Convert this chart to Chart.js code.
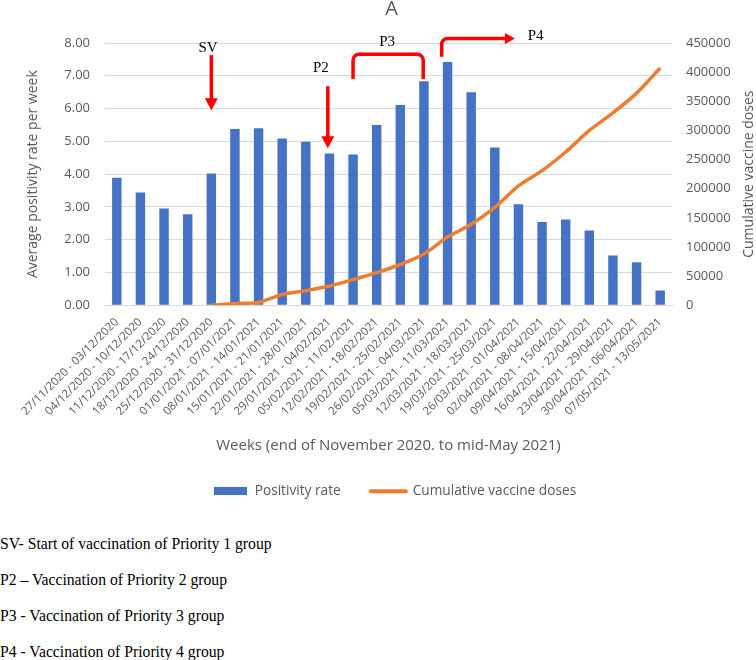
<!DOCTYPE html>
<html>
<head>
<meta charset="utf-8">
<script src="https://cdn.jsdelivr.net/npm/chart.js@4.4.1/dist/chart.umd.min.js"></script>
<style>
  body { margin: 0; background: #fff; width: 756px; height: 660px; position: relative; overflow: hidden; }
  #wrap { position: absolute; left: 0; top: 0; width: 756px; height: 508px; }
  .note { position: absolute; left: 0; font-family: "Liberation Serif", "Times New Roman", serif;
          font-size: 16px; line-height: 20px; color: #000; white-space: nowrap;
          transform: scaleX(0.98); transform-origin: left center; }
</style>
</head>
<body>
<div id="wrap"><canvas id="chart" width="756" height="508"></canvas></div>
<div class="note" style="top:534px">SV- Start of vaccination of Priority 1 group</div>
<div class="note" style="top:570px">P2 – Vaccination of Priority 2 group</div>
<div class="note" style="top:606px">P3 - Vaccination of Priority 3 group</div>
<div class="note" style="top:642px">P4 - Vaccination of Priority 4 group</div>
<script>
// --- data ---
const weeks = [
  '27/11/2020 - 03/12/2020', '04/12/2020 - 10/12/2020', '11/12/2020 - 17/12/2020',
  '18/12/2020 - 24/12/2020', '25/12/2020 - 31/12/2020', '01/01/2021 - 07/01/2021',
  '08/01/2021 - 14/01/2021', '15/01/2021 - 21/01/2021', '22/01/2021 - 28/01/2021',
  '29/01/2021 - 04/02/2021', '05/02/2021 - 11/02/2021', '12/02/2021 - 18/02/2021',
  '19/02/2021 - 25/02/2021', '26/02/2021 - 04/03/2021', '05/03/2021 - 11/03/2021',
  '12/03/2021 - 18/03/2021', '19/03/2021 - 25/03/2021', '26/03/2021 - 01/04/2021',
  '02/04/2021 - 08/04/2021', '09/04/2021 - 15/04/2021', '16/04/2021 - 22/04/2021',
  '23/04/2021 - 29/04/2021', '30/04/2021 - 06/04/2021', '07/05/2021 - 13/05/2021'
];
const positivityRate = [3.89, 3.44, 2.95, 2.78, 4.02, 5.38, 5.40, 5.09, 4.99, 4.63, 4.60, 5.50,
                        6.11, 6.83, 7.42, 6.50, 4.81, 3.08, 2.54, 2.62, 2.28, 1.52, 1.31, 0.45];
const vaccineDoses = [null, null, null, null, 0, 3000, 5000, 18500, 25000, 33000, 44000, 56000,
                      70000, 88000, 117000, 139000, 168000, 205000, 231000, 263000, 300000, 330000, 364000, 407000];
const leftTicks = { min: 0, max: 8, step: 1 };
const rightTicks = { min: 0, max: 450000, step: 50000 };

// annotation marks, in category index / left-axis units
const downArrows = [
  { label: 'SV', x: 4, from: 7.63, to: 5.95, lx: 3.86, ly: 7.85 },
  { label: 'P2', x: 8.93, from: 6.68, to: 4.79, lx: 8.64, ly: 7.24 }
];
const bracketP3 = { label: 'P3', x0: 10, x1: 12.97, low: 6.9, high: 7.66, lx: 11.44, ly: 8.03 };
const turnP4 = { label: 'P4', x0: 13.75, x1: 16.85, low: 7.58, high: 8.14, lx: 17.73, ly: 8.21 };

const BLUE = '#4472C4', ORANGE = '#ED7D31', TEXT = '#595959', GRID = '#D9D9D9', RED = '#FF0000';
const SANS = '"Open Sans", sans-serif';

// legend swatch for the bars
const swatch = document.createElement('canvas');
swatch.width = 33; swatch.height = 8;
const sctx = swatch.getContext('2d');
sctx.fillStyle = BLUE; sctx.fillRect(0, 0, 33, 8);

const markers = {
  id: 'markers',
  afterLayout(chart) {
    // centre the legend under the plot rather than the canvas
    const shift = (chart.chartArea.left + chart.chartArea.right) / 2 - chart.width / 2 + 6;
    chart.legend.left += shift;
    chart.legend.right += shift;
  },
  afterDatasetsDraw(chart) {
    const { ctx, chartArea, scales: { x, y } } = chart;
    const px = i => x.getPixelForValue(0) + i * (x.getPixelForValue(1) - x.getPixelForValue(0));
    ctx.save();

    // title "A"
    ctx.fillStyle = TEXT;
    ctx.font = '20px ' + SANS;
    ctx.textAlign = 'center';
    ctx.textBaseline = 'middle';
    ctx.fillText('A', (chartArea.left + chartArea.right) / 2 + 3, 9);

    // right axis title, reading upward
    ctx.save();
    ctx.translate(749, (chartArea.top + chartArea.bottom) / 2);
    ctx.rotate(-Math.PI / 2);
    ctx.font = '14px ' + SANS;
    ctx.fillText('Cumulative vaccine doses', 0, 0);
    ctx.restore();

    ctx.strokeStyle = RED;
    ctx.fillStyle = RED;
    ctx.lineWidth = 3.5;
    ctx.lineCap = 'butt';
    ctx.lineJoin = 'round';
    const head = 12, half = 6.5;

    downArrows.forEach(a => {
      const ax = px(a.x), y0 = y.getPixelForValue(a.from), y1 = y.getPixelForValue(a.to);
      ctx.beginPath(); ctx.moveTo(ax, y0); ctx.lineTo(ax, y1 - head + 1); ctx.stroke();
      ctx.beginPath(); ctx.moveTo(ax - half, y1 - head); ctx.lineTo(ax + half, y1 - head); ctx.lineTo(ax, y1);
      ctx.closePath(); ctx.fill();
    });

    // P3 bracket
    const r = 6;
    let xl = px(bracketP3.x0), xr = px(bracketP3.x1);
    let yb = y.getPixelForValue(bracketP3.low), yt = y.getPixelForValue(bracketP3.high);
    ctx.beginPath();
    ctx.moveTo(xl, yb);
    ctx.arcTo(xl, yt, xl + r, yt, r);
    ctx.arcTo(xr, yt, xr, yt + r, r);
    ctx.lineTo(xr, yb);
    ctx.stroke();

    // P4 turn arrow
    xl = px(turnP4.x0); xr = px(turnP4.x1);
    yb = y.getPixelForValue(turnP4.low); yt = y.getPixelForValue(turnP4.high);
    ctx.beginPath();
    ctx.moveTo(xl, yb);
    ctx.arcTo(xl, yt, xl + r, yt, r);
    ctx.lineTo(xr - 9, yt);
    ctx.stroke();
    ctx.beginPath(); ctx.moveTo(xr - 10, yt - 5.5); ctx.lineTo(xr - 10, yt + 5.5); ctx.lineTo(xr, yt);
    ctx.closePath(); ctx.fill();

    // labels
    ctx.fillStyle = '#000';
    ctx.font = '15px "Liberation Serif", serif';
    [...downArrows, bracketP3, turnP4].forEach(a => {
      ctx.fillText(a.label, px(a.lx), y.getPixelForValue(a.ly));
    });
    ctx.restore();
  }
};

new Chart(document.getElementById('chart'), {
  data: {
    labels: weeks,
    datasets: [
      {
        type: 'line',
        label: 'Cumulative vaccine doses',
        data: vaccineDoses,
        yAxisID: 'y1',
        borderColor: ORANGE,
        backgroundColor: ORANGE,
        borderWidth: 3.5,
        pointRadius: 0,
        tension: 0.3,
        order: 0
      },
      {
        type: 'bar',
        label: 'Positivity rate',
        data: positivityRate,
        yAxisID: 'y',
        backgroundColor: BLUE,
        barPercentage: 0.4,
        categoryPercentage: 1,
        order: 1
      }
    ]
  },
  options: {
    responsive: false,
    animation: false,
    layout: { padding: { top: 43, left: 0, right: 0, bottom: 0 } },
    plugins: {
      tooltip: { enabled: false },
      legend: {
        position: 'bottom',
        labels: {
          usePointStyle: true,
          pointStyleWidth: 35,
          padding: 30,
          color: TEXT,
          font: { family: SANS, size: 13.7 },
          sort: (a, b) => a.datasetIndex === 1 ? -1 : 1,
          generateLabels(chart) {
            const items = Chart.defaults.plugins.legend.labels.generateLabels(chart);
            items.forEach(it => {
              if (it.datasetIndex === 1) {
                it.pointStyle = swatch;
              } else {
                it.pointStyle = 'line';
                it.strokeStyle = ORANGE;
                it.lineWidth = 4;
                it.lineCap = 'round';
              }
            });
            return items;
          }
        }
      }
    },
    scales: {
      x: {
        grid: { display: false },
        border: { display: true, color: GRID },
        ticks: {
          autoSkip: false, minRotation: 45, maxRotation: 45, padding: 2,
          color: TEXT, font: { family: SANS, size: 11.5 }
        },
        title: {
          display: true, text: 'Weeks (end of November 2020. to mid-May 2021)',
          color: TEXT, font: { family: SANS, size: 15 }, padding: { top: 0, bottom: 0 }
        },
        afterFit(scale) { scale.height = 149; }
      },
      y: {
        position: 'left',
        min: leftTicks.min, max: leftTicks.max,
        grid: { color: GRID, drawTicks: false },
        border: { display: false },
        ticks: {
          stepSize: leftTicks.step, padding: 15, color: TEXT,
          font: { family: SANS, size: 13 },
          callback: v => v.toFixed(2)
        },
        title: {
          display: true, text: 'Average positivity rate per week',
          color: TEXT, font: { family: SANS, size: 14 }, padding: { top: 25, bottom: 0 }
        },
        afterFit(scale) { scale.width = 105; }
      },
      y1: {
        position: 'right',
        min: rightTicks.min, max: rightTicks.max,
        grid: { display: false, drawTicks: false },
        border: { display: false },
        ticks: {
          stepSize: rightTicks.step, padding: 14, color: TEXT,
          font: { family: SANS, size: 13 },
          callback: v => String(v)
        },
        afterFit(scale) { scale.width = 84; }
      }
    }
  },
  plugins: [markers]
});
</script>
</body>
</html>
